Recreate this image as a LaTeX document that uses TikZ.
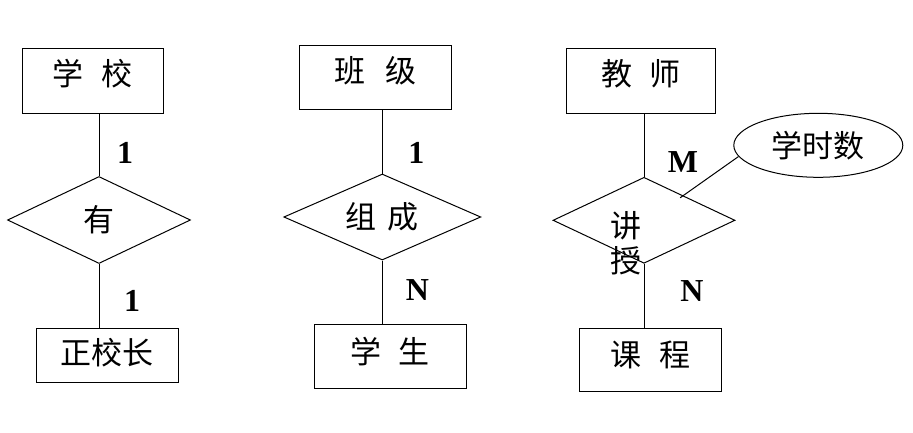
\documentclass[tikz,border=0pt]{standalone}
\usepackage{fontspec}
\setmainfont{Liberation Serif}
\newfontfamily\cjk{Noto Sans CJK SC}
\usetikzlibrary{shapes.geometric,calc}
\tikzset{
  entbox/.style={rectangle, draw, line width=1pt, inner sep=0pt,
    font=\cjk\fontsize{31}{35}\selectfont},
  relbox/.style={diamond, draw, aspect=2, line width=1pt, inner sep=0pt,
    font=\cjk\fontsize{31}{35}\selectfont},
  attrbox/.style={ellipse, draw, line width=1pt, inner sep=0pt,
    font=\cjk\fontsize{31}{35}\selectfont},
  link/.style={line width=1pt},
  card/.style={font=\bfseries\fontsize{32}{36}\selectfont, inner sep=0pt},
}
\newcommand\cjkgap[1][0.56em]{\hspace{#1}}

\begin{document}
\begin{tikzpicture}[x=1pt, y=-1pt]
  \useasboundingbox (0,0) rectangle (913,432);
  % school -- has -- head
  \node[entbox, minimum width=141pt, minimum height=65pt, text depth=16pt] (school) at (92.5,80.5) {学\cjkgap 校};
  \node[relbox, minimum width=183pt, minimum height=87pt] (has) at (99,220) {有};
  \node[entbox, minimum width=142pt, minimum height=54pt, text depth=8pt] (head) at (107,355.5) {正校长};
  \draw[link] (has.north) -- node[card, pos=0.375, xshift=26pt] {1} (has.north |- school.south);
  \draw[link] (has.south) -- node[card, pos=0.57, xshift=33pt] {1} (has.south |- head.north);
  % class -- makeup -- student
  \node[entbox, minimum width=152pt, minimum height=64pt, text depth=16pt] (class) at (375.5,77) {班\cjkgap[0.66em]级};
  \node[relbox, minimum width=197pt, minimum height=86pt] (makeup) at (382.3,217) {组\cjkgap[0.35em]成};
  \node[entbox, minimum width=152pt, minimum height=64pt, text depth=11pt] (student) at (390,356) {学\cjkgap 生};
  \draw[link] (makeup.north) -- node[card, pos=0.32, xshift=34pt] {1} (makeup.north |- class.south);
  \draw[link] (makeup.south) -- node[card, pos=0.47, xshift=35pt] {N} (makeup.south |- student.north);
  % teacher -- teach -- course, with hours
  \node[entbox, minimum width=149pt, minimum height=65pt, text depth=18pt] (teacher) at (641,81) {教\cjkgap 师};
  \node[relbox, minimum width=182pt, minimum height=86pt] (teach) at (644,220.3) {};
  \node[font=\cjk\fontsize{31}{35}\selectfont, align=center, inner sep=0pt] (teachtxt) at (626,243.5) {讲\\授};
  \node[entbox, minimum width=142pt, minimum height=63pt, text depth=12pt] (course) at (650.5,360) {课\cjkgap 程};
  \node[attrbox, minimum width=169pt, minimum height=64pt] (hours) at (818.3,145.3) {学时数};
  \draw[link] (teach.north) -- node[card, pos=0.23, xshift=39pt] {M} (teach.north |- teacher.south);
  \draw[link] (teach.south) -- node[card, pos=0.42, xshift=48pt] {N} (teach.south |- course.north);
  \draw[link, shorten >=-4pt] (hours.188) -- ($(teach.north)!0.43!(teach.east)$);
\end{tikzpicture}
\end{document}
